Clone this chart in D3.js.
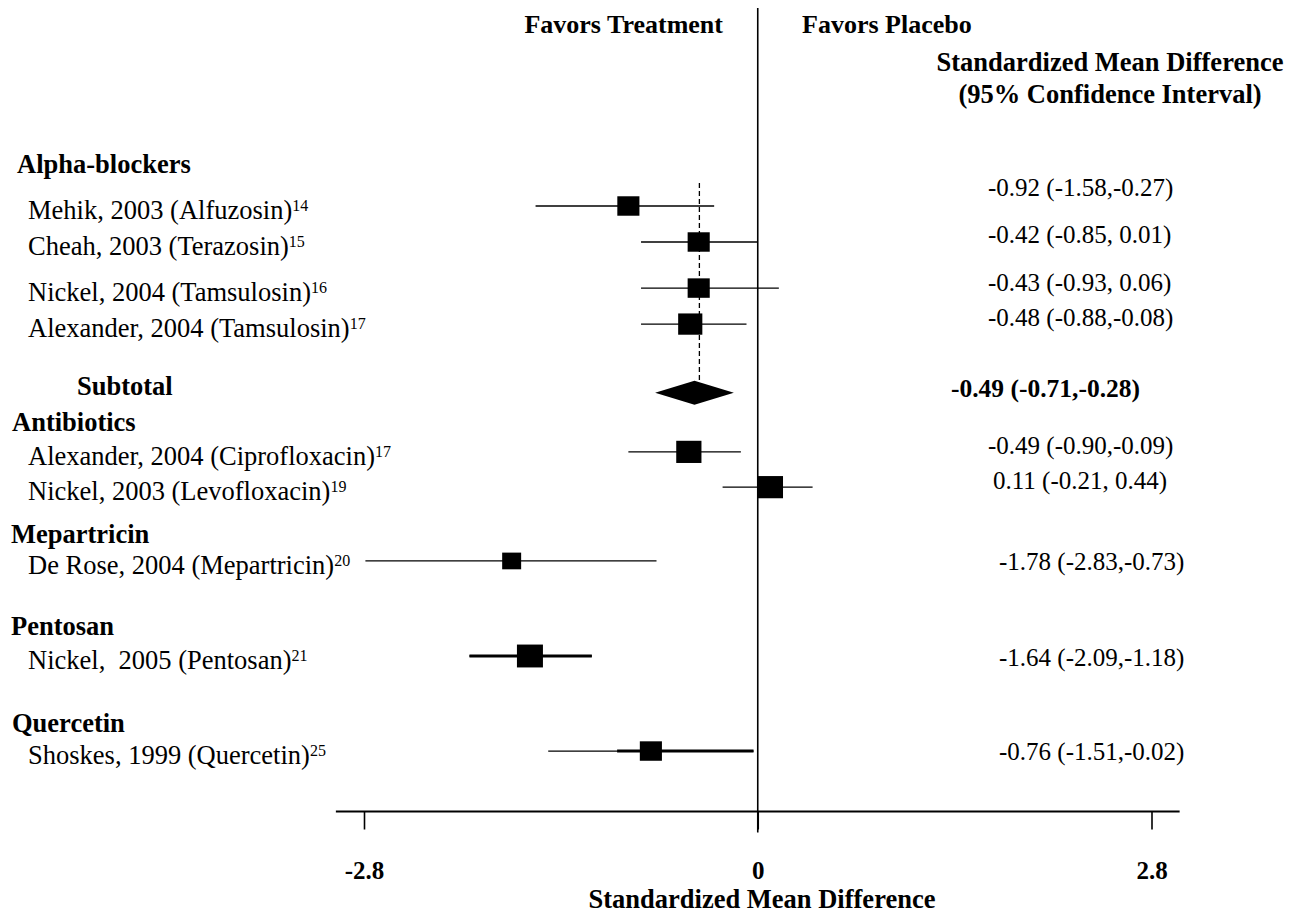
<!DOCTYPE html>
<html>
<head>
<meta charset="utf-8">
<script src="https://cdn.jsdelivr.net/npm/d3@7"></script>
<style>
  body { margin: 0; background: #fff; }
  svg { display: block; font-family: "Liberation Serif", "Times New Roman", serif; }
  text { white-space: pre; fill: #000; }
</style>
</head>
<body>
<svg id="chart"></svg>
<script>
// groups and studies, top to bottom
var groups = ["Alpha-blockers", "Antibiotics", "Mepartricin", "Pentosan", "Quercetin"];
var studies = ["Mehik, 2003 (Alfuzosin)", "Cheah, 2003 (Terazosin)", "Nickel, 2004 (Tamsulosin)",
  "Alexander, 2004 (Tamsulosin)", "Alexander, 2004 (Ciprofloxacin)", "Nickel, 2003 (Levofloxacin)",
  "De Rose, 2004 (Mepartricin)", "Nickel,  2005 (Pentosan)", "Shoskes, 1999 (Quercetin)"];
var refs = ["14", "15", "16", "17", "17", "19", "20", "21", "25"];

// values as drawn in the picture
var est   = [-0.92, -0.42, -0.42, -0.48, -0.49, 0.09, -1.75, -1.62, -0.76];
var lower = [-1.58, -0.83, -0.83, -0.83, -0.92, -0.25, -2.79, -2.05, -1.49];
var upper = [-0.31, 0.00, 0.15, -0.08, -0.12, 0.39, -0.72, -1.18, -0.03];
var boldFrom = [null, null, null, null, null, null, null, -2.05, -1.00];
var weight = [0.85, 0.85, 0.85, 0.93, 0.97, 0.97, 0.73, 1.0, 0.85];
var ciText = ["-0.92 (-1.58,-0.27)", "-0.42 (-0.85, 0.01)", "-0.43 (-0.93, 0.06)",
  "-0.48 (-0.88,-0.08)", "-0.49 (-0.90,-0.09)", "0.11 (-0.21, 0.44)",
  "-1.78 (-2.83,-0.73)", "-1.64 (-2.09,-1.18)", "-0.76 (-1.51,-0.02)"];

// alpha-blocker subtotal
var subLabel = "Subtotal";
var subEst = -0.45, subLo = -0.73, subHi = -0.17;
var subText = "-0.49 (-0.71,-0.28)";
var pooled = -0.415;

var tickValues = [-2.8, 0, 2.8];
var tickLabels = ["-2.8", "0", "2.8"];

// ---- layout ----
var width = 1310, height = 915;
var svg = d3.select("#chart").attr("width", width).attr("height", height);

var x = d3.scaleLinear().domain([-2.8, 2.8]).range([364, 1151.5]);
// one slot = one text line
var y = d3.scaleLinear().domain([0, 1]).range([206, 242]);
var studySlot = [0, 1, 2.28, 3.28, 6.83, 7.81, 9.86, 12.5, 15.14];
var groupSlot = [-1.13, 6.03, 9.15, 11.69, 14.38];
var groupX = [17, 12, 11, 11, 12];
var subSlot = 5.19;
var valueX = [988, 988, 988, 988, 988, 993, 999, 999, 999];
var valueDy = [-10, 1, 2.5, 1.5, 2.5, 2, 9.5, 9.5, 9];
var axisY = 811.5;

// header
svg.append("text").attr("x", 723).attr("y", 33).attr("text-anchor", "end")
  .attr("font-weight", "bold").attr("font-size", 26).text("Favors Treatment");
svg.append("text").attr("x", 802).attr("y", 33)
  .attr("font-weight", "bold").attr("font-size", 26).text("Favors Placebo");
svg.append("text").attr("x", 1110).attr("y", 71).attr("text-anchor", "middle")
  .attr("font-weight", "bold").attr("font-size", 26.5).text("Standardized Mean Difference");
svg.append("text").attr("x", 1110).attr("y", 103).attr("text-anchor", "middle")
  .attr("font-weight", "bold").attr("font-size", 26.5).text("(95% Confidence Interval)");

// zero line
svg.append("line")
  .attr("x1", x(0)).attr("x2", x(0)).attr("y1", 8).attr("y2", axisY + 21)
  .attr("stroke", "#000").attr("stroke-width", 1.6);

// group labels
svg.selectAll(".group").data(groups).enter().append("text")
  .attr("class", "group")
  .attr("x", function(d, i) { return groupX[i]; })
  .attr("y", function(d, i) { return y(groupSlot[i]) + 8; })
  .attr("font-weight", "bold").attr("font-size", 26.5)
  .text(function(d) { return d; });

// study labels with reference superscripts
var lab = svg.selectAll(".study").data(studies).enter().append("text")
  .attr("class", "study")
  .attr("x", 28)
  .attr("y", function(d, i) { return y(studySlot[i]) + 13; })
  .attr("font-size", 26.5);
lab.append("tspan").text(function(d) { return d; });
lab.append("tspan").attr("font-size", 16).attr("dy", -8)
  .text(function(d, i) { return refs[i]; });

// pooled dashed line
svg.append("line")
  .attr("x1", x(pooled)).attr("x2", x(pooled))
  .attr("y1", y(-0.64)).attr("y2", y(subSlot) - 12)
  .attr("stroke", "#000").attr("stroke-width", 1.3).attr("stroke-dasharray", "5,3");

// CI lines
svg.selectAll(".ci").data(studies).enter().append("line")
  .attr("class", "ci")
  .attr("x1", function(d, i) { return x(lower[i]); })
  .attr("x2", function(d, i) { return x(upper[i]); })
  .attr("y1", function(d, i) { return y(studySlot[i]); })
  .attr("y2", function(d, i) { return y(studySlot[i]); })
  .attr("stroke", "#000").attr("stroke-width", 1.3);

var thick = d3.range(studies.length).filter(function(i) { return boldFrom[i] !== null; });
svg.selectAll(".ciBold").data(thick).enter().append("line")
  .attr("class", "ciBold")
  .attr("x1", function(i) { return x(boldFrom[i]); })
  .attr("x2", function(i) { return x(upper[i]); })
  .attr("y1", function(i) { return y(studySlot[i]); })
  .attr("y2", function(i) { return y(studySlot[i]); })
  .attr("stroke", "#000").attr("stroke-width", 3);

// study boxes
var box = d3.scaleLinear().domain([0, 1]).range([0, 26]);
svg.selectAll(".box").data(studies).enter().append("rect")
  .attr("class", "box")
  .attr("x", function(d, i) { return x(est[i]) - box(weight[i]) / 2; })
  .attr("y", function(d, i) { return y(studySlot[i]) - box(weight[i]) * 0.44; })
  .attr("width", function(d, i) { return box(weight[i]); })
  .attr("height", function(d, i) { return box(weight[i]) * 0.88; })
  .attr("fill", "#000");

// subtotal
var sy = y(subSlot);
svg.append("path")
  .attr("d", "M" + x(subLo) + "," + sy + "L" + x(subEst) + "," + (sy - 12) +
    "L" + x(subHi) + "," + sy + "L" + x(subEst) + "," + (sy + 12) + "Z")
  .attr("fill", "#000");
svg.append("text").attr("x", 77).attr("y", sy + 2)
  .attr("font-weight", "bold").attr("font-size", 26.5).text(subLabel);
svg.append("text").attr("x", 951).attr("y", sy + 4)
  .attr("font-weight", "bold").attr("font-size", 25.5).text(subText);

// right column values
svg.selectAll(".val").data(ciText).enter().append("text")
  .attr("class", "val")
  .attr("x", function(d, i) { return valueX[i]; })
  .attr("y", function(d, i) { return y(studySlot[i]) + valueDy[i]; })
  .attr("font-size", 25)
  .text(function(d) { return d; });

// x axis
svg.append("line")
  .attr("x1", x(-3)).attr("x2", x(3)).attr("y1", axisY).attr("y2", axisY)
  .attr("stroke", "#000").attr("stroke-width", 2);

var gx = svg.append("g").attr("transform", "translate(0," + axisY + ")")
  .call(d3.axisBottom(x).tickValues(tickValues).tickSize(18)
    .tickFormat(function(d, i) { return tickLabels[i]; }));
gx.select(".domain").remove();
gx.selectAll(".tick line").attr("stroke", "#000").attr("stroke-width", 1.6);
gx.selectAll(".tick text")
  .attr("y", 67).attr("dy", null)
  .attr("fill", "#000")
  .attr("font-family", "Liberation Serif, serif")
  .attr("font-weight", "bold").attr("font-size", 25);

svg.append("text").attr("x", 762).attr("y", 908).attr("text-anchor", "middle")
  .attr("font-weight", "bold").attr("font-size", 26.5).text("Standardized Mean Difference");
</script>
</body>
</html>
